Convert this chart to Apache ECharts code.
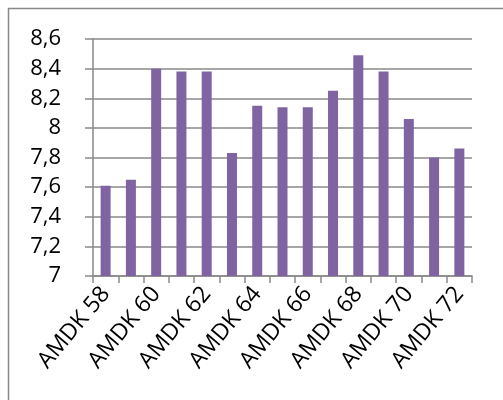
<!DOCTYPE html>
<html><head><meta charset="utf-8">
<script src="https://cdn.jsdelivr.net/npm/echarts@6/dist/echarts.min.js"></script>
<style>html,body{margin:0;padding:0;background:#fff}#c{width:503px;height:400px}</style>
</head><body><div id="c"></div>
<script>
const categories = ['AMDK 58','AMDK 59','AMDK 60','AMDK 61','AMDK 62','AMDK 63','AMDK 64','AMDK 65','AMDK 66','AMDK 67','AMDK 68','AMDK 69','AMDK 70','AMDK 71','AMDK 72'];
const values = [7.61,7.65,8.40,8.38,8.38,7.83,8.15,8.14,8.14,8.25,8.49,8.38,8.06,7.80,7.86];
const yMin = 7, yMax = 8.6, yStep = 0.2;
const chart = echarts.init(document.getElementById('c'), null, {renderer:'canvas'});
const gray = '#898989';
chart.setOption({
  animation:false,
  graphic:[{type:'rect',shape:{x:8.5,y:8.5,width:600,height:600},style:{fill:'none',stroke:gray,lineWidth:1.5},z:-1}],
  grid:{left:93,right:31,top:39,bottom:124,containLabel:false},
  xAxis:{type:'category',data:categories,
    axisLine:{lineStyle:{color:gray,width:1.5}},
    axisTick:{show:true,interval:0,length:7,lineStyle:{color:gray,width:1.5}},
    axisLabel:{interval:1,rotate:50,margin:14,color:'#000',fontFamily:'Open Sans',fontSize:23,lineHeight:23}},
  yAxis:{type:'value',min:yMin,max:yMax,interval:yStep,
    axisLine:{show:true,lineStyle:{color:gray,width:1.5}},
    axisTick:{show:true,length:8,inside:false,lineStyle:{color:gray,width:1.5}},
    splitLine:{lineStyle:{color:gray,width:1.5}},
    axisLabel:{margin:32,color:'#000',fontFamily:'Open Sans',fontSize:22,
      formatter:v=>String(Math.round(v*10)/10).replace('.',',')}},
  series:[{type:'bar',data:values,barWidth:10,itemStyle:{color:'#8064A2'}}]
});
</script></body></html>
